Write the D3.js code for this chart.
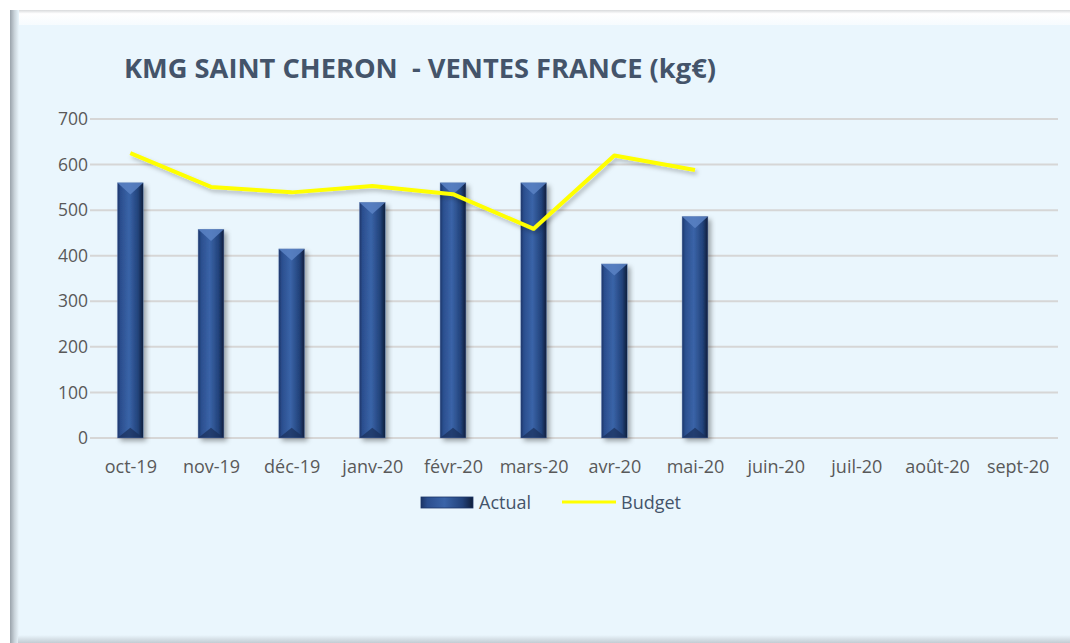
<!DOCTYPE html>
<html>
<head>
<meta charset="utf-8">
<script src="https://cdn.jsdelivr.net/npm/d3@7"></script>
<style>
  body { margin:0; background:#fff; }
  svg { display:block; }
</style>
</head>
<body>
<script>
// data
var months = ["oct-19","nov-19","déc-19","janv-20","févr-20","mars-20","avr-20","mai-20","juin-20","juil-20","août-20","sept-20"];
var actual = [560, 458, 415, 517, 560, 560, 382, 486];
var budget = [625, 551, 539, 553, 535, 459, 620, 588];
var yTicks = [0,100,200,300,400,500,600,700];

var width = 1070, height = 643;
var font = "'Open Sans', sans-serif";
var svg = d3.select("body").append("svg").attr("width", width).attr("height", height);
var defs = svg.append("defs");

// panel gradients
var bg = defs.append("linearGradient").attr("id","leftEdge").attr("x1",0).attr("x2",1);
bg.append("stop").attr("offset",0).attr("stop-color","#9aa3ab");
bg.append("stop").attr("offset",0.5).attr("stop-color","#c9d3da");
bg.append("stop").attr("offset",1).attr("stop-color","#eaf6fd");
var tg = defs.append("linearGradient").attr("id","topEdge").attr("x1",0).attr("x2",0).attr("y1",0).attr("y2",1);
tg.append("stop").attr("offset",0).attr("stop-color","#d8dadc");
tg.append("stop").attr("offset",0.25).attr("stop-color","#ffffff");
tg.append("stop").attr("offset",1).attr("stop-color","#f6fbfe");
var bgB = defs.append("linearGradient").attr("id","botEdge").attr("x1",0).attr("x2",0).attr("y1",0).attr("y2",1);
bgB.append("stop").attr("offset",0).attr("stop-color","#eaf6fd");
bgB.append("stop").attr("offset",1).attr("stop-color","#c3ccd3");

// bar gradient
var barG = defs.append("linearGradient").attr("id","barGrad").attr("x1",0).attr("x2",1);
barG.append("stop").attr("offset",0).attr("stop-color","#1c3566");
barG.append("stop").attr("offset",0.12).attr("stop-color","#2b4e8e");
barG.append("stop").attr("offset",0.45).attr("stop-color","#3a64a8");
barG.append("stop").attr("offset",0.8).attr("stop-color","#22427a");
barG.append("stop").attr("offset",1).attr("stop-color","#0e1d3a");

var shadow = defs.append("filter").attr("id","shadow").attr("x","-30%").attr("y","-10%").attr("width","160%").attr("height","130%");
shadow.append("feDropShadow").attr("dx",3).attr("dy",3).attr("stdDeviation",2.5).attr("flood-color","#000").attr("flood-opacity",0.35);

var lineShadow = defs.append("filter").attr("id","lshadow").attr("x","-10%").attr("y","-30%").attr("width","120%").attr("height","160%");
lineShadow.append("feDropShadow").attr("dx",2).attr("dy",3).attr("stdDeviation",2).attr("flood-color","#000").attr("flood-opacity",0.25);

// panel
svg.append("rect").attr("x",10).attr("y",10).attr("width",1060).attr("height",633).attr("fill","#eaf6fd");
svg.append("rect").attr("x",10).attr("y",10).attr("width",1060).attr("height",15).attr("fill","url(#topEdge)");
svg.append("rect").attr("x",10).attr("y",10).attr("width",9).attr("height",633).attr("fill","url(#leftEdge)");
svg.append("rect").attr("x",18).attr("y",635).attr("width",1052).attr("height",8).attr("fill","url(#botEdge)");

// scales
var x = d3.scaleBand().domain(months).range([90, 1058]).paddingInner(0.68).paddingOuter(0.34);
var xc = function(m){ return x(m) + x.bandwidth()/2; };
var y = d3.scaleLinear().domain([0,700]).range([438,119]);

// grid
svg.append("g").selectAll("line").data(yTicks).join("line")
  .attr("x1",90).attr("x2",1058)
  .attr("y1",d=>y(d)).attr("y2",d=>y(d))
  .attr("stroke","#d6d6d6").attr("stroke-width",2);

// y axis labels
var yAxis = d3.axisLeft(y).tickValues(yTicks).tickSize(0).tickPadding(0);
var yg = svg.append("g").attr("transform","translate(88,0)").call(yAxis);
yg.select(".domain").remove();
yg.selectAll("text").attr("font-family",font).attr("font-size",17.5).attr("fill","#595959");

// x axis labels
var xAxis = d3.axisBottom(d3.scalePoint().domain(months).range([xc(months[0]), xc(months[11])])).tickSize(0).tickPadding(0);
var xg = svg.append("g").attr("transform","translate(0,460)").call(xAxis);
xg.select(".domain").remove();
xg.selectAll("text").attr("font-family",font).attr("font-size",18).attr("fill","#595959");

// bars
var bars = svg.append("g").selectAll("g").data(actual).join("g");
bars.append("rect")
  .attr("x",(d,i)=>x(months[i])).attr("y",d=>y(d))
  .attr("width",x.bandwidth()).attr("height",d=>y(0)-y(d))
  .attr("fill","url(#barGrad)").attr("filter","url(#shadow)");
// bevel top triangle
bars.append("path")
  .attr("d",function(d,i){
    var x0 = x(months[i]), w = x.bandwidth(), t = y(d);
    return "M"+x0+","+t+"L"+(x0+w)+","+t+"L"+(x0+w/2)+","+(t+w*0.45)+"Z";
  })
  .attr("fill","#5a82c4").attr("opacity",0.85);
// bevel bottom
bars.append("path")
  .attr("d",function(d,i){
    var x0 = x(months[i]), w = x.bandwidth(), b = y(0);
    return "M"+x0+","+b+"L"+(x0+w)+","+b+"L"+(x0+w/2)+","+(b-w*0.4)+"Z";
  })
  .attr("fill","#1a2f5a").attr("opacity",0.7);
bars.append("rect")
  .attr("x",(d,i)=>x(months[i])).attr("y",d=>y(d))
  .attr("width",x.bandwidth()).attr("height",d=>y(0)-y(d))
  .attr("fill","none").attr("stroke","#6f8fc4").attr("stroke-width",0.6).attr("stroke-opacity",0.6);

// budget line
var line = d3.line().x((d,i)=>xc(months[i])).y(d=>y(d));
svg.append("path").datum(budget).attr("d",line)
  .attr("fill","none").attr("stroke","#ffff00").attr("stroke-width",4)
  .attr("stroke-linejoin","round").attr("filter","url(#lshadow)");

// title, sized to fit the reference width
var title = svg.append("text").attr("x",124).attr("y",78)
  .attr("font-family",font).attr("font-weight","bold").attr("font-size",24)
  .attr("fill","#44546a").attr("xml:space","preserve")
  .text("KMG SAINT CHERON  - VENTES FRANCE (kg€)");
var tw = title.node().getComputedTextLength();
title.attr("font-size", Math.min(28, 24*592/tw));

// legend
var lg = svg.append("g").attr("font-family",font).attr("font-size",18).attr("fill","#44546a");
lg.append("rect").attr("x",421).attr("y",497).attr("width",52).attr("height",11).attr("fill","url(#barGrad)");
lg.append("rect").attr("x",421).attr("y",497).attr("width",52).attr("height",11).attr("fill","none").attr("stroke","#1c3566").attr("stroke-width",0.8);
lg.append("text").attr("x",479).attr("y",509).text("Actual");
lg.append("line").attr("x1",562).attr("x2",616).attr("y1",502).attr("y2",502).attr("stroke","#ffff00").attr("stroke-width",3);
lg.append("text").attr("x",621).attr("y",509).text("Budget");
</script>
</body>
</html>
